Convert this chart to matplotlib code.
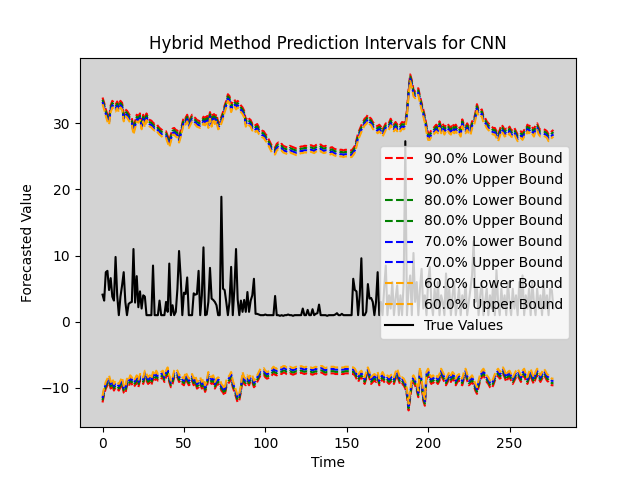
import matplotlib
matplotlib.use("Agg")
import matplotlib.pyplot as plt
import numpy as np

upper_center = [
    33.4, 32.6, 31.6, 30.8, 30.3, 32.2, 32.9, 32.6, 32.3, 32.8,
    32.2, 32.9, 32.6, 30.8, 31.6, 31.4, 31.0, 30.6, 30.3, 28.8,
    29.8, 30.8, 30.6, 31.0, 29.6, 30.8, 29.9, 31.0, 30.3, 30.0,
    29.9, 29.6, 29.4, 29.5, 29.1, 28.8, 28.6, 28.4, 28.3, 28.3,
    27.6, 26.9, 27.8, 28.7, 28.8, 28.5, 28.4, 27.6, 28.4, 29.5,
    30.5, 30.3, 30.8, 29.8, 30.3, 30.8, 30.5, 30.3, 30.0, 29.9,
    29.8, 29.9, 30.5, 30.2, 30.9, 29.8, 31.2, 30.0, 31.2, 30.4,
    30.9, 29.6, 29.8, 30.5, 31.2, 32.2, 32.9, 33.9, 33.6, 32.2,
    32.9, 33.1, 32.6, 32.9, 32.6, 32.2, 31.9, 31.4, 30.0, 30.5,
    30.2, 30.0, 29.4, 29.6, 29.2, 29.4, 28.9, 28.6, 28.4, 28.3,
    27.9, 27.6, 27.1, 26.6, 26.1, 25.8, 25.8, 26.4, 26.6, 26.3,
    26.4, 26.1, 26.0, 25.9, 25.8, 26.1, 26.0, 25.9, 25.8, 25.7,
    25.7, 25.9, 26.0, 26.0, 26.1, 26.1, 26.0, 26.1, 26.2, 26.1,
    26.0, 26.2, 26.35, 26.2, 26.3, 26.1, 26.0, 26.1, 26.0, 25.9,
    25.8, 25.9, 25.7, 25.6, 25.5, 25.6, 25.5, 25.5, 25.4, 25.5,
    25.5, 25.5, 25.4, 25.4, 25.7, 26.1, 27.0, 28.0, 28.6, 29.2,
    29.7, 30.2, 30.4, 30.8, 30.4, 30.2, 29.7, 29.4, 29.3, 29.0,
    29.3, 29.0, 28.5, 29.0, 29.5, 29.3, 29.6, 30.2, 29.6, 29.3,
    29.7, 29.3, 29.6, 29.3, 29.7, 29.6, 29.8, 31.5, 34.7, 36.9,
    36.0, 34.6, 34.3, 34.7, 34.8, 33.6, 32.6, 31.6, 30.6, 29.2,
    28.0, 28.0, 28.5, 28.7, 29.0, 29.3, 29.0, 29.8, 29.0, 29.5,
    28.8, 29.3, 29.5, 29.0, 28.8, 29.5, 29.0, 29.3, 28.8, 29.0,
    28.5, 30.1, 29.3, 29.0, 29.5, 29.0, 28.7, 29.8, 30.0, 31.0,
    32.4, 31.6, 31.4, 31.6, 30.6, 30.3, 29.8, 29.5, 29.3, 29.0,
    28.8, 28.8, 28.3, 27.8, 28.5, 29.3, 29.0, 28.5, 28.7, 28.5,
    29.0, 28.5, 28.4, 28.8, 28.3, 27.8, 28.0, 28.3, 28.0, 28.5,
    28.5, 29.3, 29.0, 29.3, 28.9, 28.5, 29.3, 29.5, 28.8, 28.5,
    28.5, 28.6, 28.5, 28.3, 27.8, 28.0, 28.3, 28.5,
]

lower_center = [
    -11.7, -10.4, -9.6, -9.1, -8.6, -9.6, -9.1, -9.9, -9.4, -9.6,
    -9.9, -9.4, -8.9, -10.2, -10.4, -9.1, -9.4, -8.6, -8.9, -9.4,
    -9.1, -8.6, -9.4, -8.4, -8.4, -8.9, -7.9, -8.4, -8.9, -8.6,
    -9.1, -8.1, -8.6, -7.9, -8.4, -8.4, -8.1, -7.9, -8.6, -7.9,
    -7.4, -8.6, -9.4, -8.9, -7.9, -7.6, -7.9, -8.6, -8.4, -8.9,
    -9.1, -8.1, -8.6, -9.1, -8.9, -8.4, -9.1, -8.6, -9.6, -9.4,
    -8.9, -9.6, -9.1, -10.1, -9.4, -8.1, -8.6, -8.9, -8.6, -9.6,
    -9.1, -8.9, -9.1, -9.9, -10.2, -10.7, -9.4, -8.9, -8.6, -8.1,
    -9.4, -10.1, -10.9, -11.7, -11.4, -10.1, -8.1, -8.9, -9.1, -8.6,
    -9.1, -8.4, -8.6, -9.4, -9.1, -8.6, -8.1, -7.6, -7.6, -7.5,
    -7.9, -8.1, -8.0, -7.9, -7.6, -7.3, -7.5, -7.6, -7.4, -7.3,
    -7.4, -7.2, -7.2, -7.4, -7.5, -7.3, -7.4, -7.5, -7.4, -7.3,
    -7.4, -7.3, -7.2, -7.3, -7.4, -7.3, -7.4, -7.5, -7.4, -7.5,
    -7.4, -7.3, -7.4, -7.3, -7.2, -7.2, -7.4, -7.5, -7.4, -7.4,
    -7.3, -7.3, -7.3, -7.4, -7.4, -7.4, -7.3, -7.4, -7.4, -7.3,
    -7.3, -7.3, -7.3, -7.4, -7.4, -7.6, -8.1, -8.6, -8.1, -7.9,
    -8.4, -8.9, -8.1, -7.4, -8.1, -8.9, -8.6, -8.4, -8.6, -8.1,
    -9.1, -8.6, -8.1, -8.6, -8.9, -8.6, -8.9, -8.6, -8.4, -8.9,
    -8.1, -7.6, -8.4, -9.1, -8.9, -9.1, -9.6, -10.7, -12.9, -11.0,
    -9.1, -8.6, -9.1, -9.9, -10.9, -7.4, -9.1, -11.4, -12.2, -8.1,
    -7.6, -8.4, -8.9, -8.6, -8.9, -8.6, -8.9, -8.4, -7.6, -8.1,
    -8.6, -9.1, -8.6, -8.1, -8.6, -8.1, -8.4, -9.1, -8.6, -8.4,
    -8.9, -9.1, -8.1, -7.6, -8.4, -9.1, -8.9, -8.6, -9.1, -9.9,
    -10.4, -9.4, -8.4, -7.9, -7.6, -8.1, -8.6, -8.9, -9.4, -9.6,
    -9.1, -8.4, -7.9, -7.6, -8.1, -7.9, -7.4, -7.9, -8.6, -8.1,
    -7.9, -8.4, -8.9, -8.4, -7.9, -7.6, -8.1, -8.6, -7.9, -7.6,
    -8.4, -8.9, -8.1, -7.6, -8.4, -8.9, -8.1, -7.6, -8.1, -8.6,
    -8.1, -7.6, -7.9, -8.4, -8.6, -8.9, -9.1, -9.1,
]

true_values = [
    4.1, 3.2, 7.5, 7.7, 4.8, 6.6, 3.8, 3.2, 9.8, 4.0,
    1.0, 3.8, 5.5, 7.5, 3.0, 1.0, 2.7, 2.9, 3.0, 11.0,
    2.9, 6.9, 2.2, 4.6, 2.0, 4.0, 3.8, 1.0, 1.0, 1.0,
    1.0, 8.5, 1.0, 1.0, 1.0, 3.2, 1.0, 1.0, 1.0, 3.0,
    1.5, 8.8, 1.0, 2.5, 1.0, 1.5, 5.0, 10.7, 6.7, 1.0,
    4.4, 4.2, 6.7, 1.0, 1.0, 1.0, 4.3, 4.1, 4.2, 7.7,
    1.0, 4.0, 11.25, 1.0, 1.1, 3.0, 8.15, 3.5, 3.3, 3.0,
    2.5, 1.0, 1.0, 18.9, 5.0, 4.8, 3.0, 1.0, 3.0, 8.3,
    1.0, 5.0, 11.0, 3.4, 1.0, 3.2, 1.5, 3.3, 1.5, 4.5,
    1.5, 3.2, 4.0, 6.5, 1.2, 1.2, 1.1, 1.0, 1.0, 1.0,
    1.1, 1.0, 1.0, 1.0, 1.0, 1.0, 3.9, 1.0, 1.0, 0.9,
    1.0, 0.9, 1.0, 1.0, 1.1, 1.0, 1.0, 0.9, 1.0, 1.0,
    1.0, 1.0, 1.0, 2.0, 1.0, 1.0, 1.8, 1.0, 1.0, 1.9,
    1.0, 1.2, 1.3, 2.6, 1.0, 1.0, 1.0, 1.0, 0.9, 1.0,
    1.0, 1.0, 1.0, 1.1, 1.3, 1.0, 1.0, 1.2, 1.0, 1.0,
    1.0, 1.0, 1.0, 1.0, 6.5, 4.8, 4.6, 1.0, 4.0, 9.6,
    1.0, 1.0, 1.5, 5.7, 3.5, 3.6, 3.0, 1.0, 3.0, 7.5,
    1.0, 3.0, 1.0, 5.0, 8.5, 1.0, 4.0, 2.0, 6.0, 1.0,
    3.5, 5.5, 1.0, 4.0, 1.0, 6.0, 27.3, 1.0, 5.0, 7.0,
    1.0, 10.4, 3.0, 6.0, 1.0, 5.0, 8.0, 2.0, 4.0, 1.0,
    6.0, 8.3, 3.0, 1.0, 5.0, 2.0, 6.0, 1.0, 4.0, 3.0,
    1.0, 7.3, 2.0, 5.0, 1.0, 4.0, 6.0, 1.0, 3.0, 5.0,
    1.0, 4.0, 2.0, 6.0, 1.0, 3.0, 5.0, 7.0, 12.2, 3.0,
    5.0, 1.0, 4.0, 6.0, 1.0, 3.0, 5.0, 1.0, 4.0, 2.0,
    6.0, 1.0, 7.8, 3.0, 1.0, 5.0, 2.0, 4.0, 1.0, 6.0,
    3.0, 1.0, 5.0, 2.0, 4.0, 1.0, 6.0, 3.0, 7.0, 1.0,
    4.0, 2.0, 5.0, 1.0, 6.0, 3.0, 1.0, 5.0, 2.0, 4.0,
    1.0, 6.0, 2.0, 4.0, 1.0, 5.0, 4.8, 2.0,
]

levels = [90.0, 80.0, 70.0, 60.0]
level_colors = ["red", "green", "blue", "orange"]
# how far each level's bound sits outside the band centre
level_shift = [0.5, 0.17, -0.17, -0.5]

time = np.arange(len(true_values))
upper_c = np.array(upper_center)
lower_c = np.array(lower_center)

fig, ax = plt.subplots(figsize=(6.4, 4.8), dpi=100)
ax.set_facecolor("lightgray")

for lvl, col, sh in zip(levels, level_colors, level_shift):
    ax.plot(time, lower_c - sh, linestyle="--", color=col, label=f"{lvl}% Lower Bound")
    ax.plot(time, upper_c + sh, linestyle="--", color=col, label=f"{lvl}% Upper Bound")

ax.plot(time, true_values, color="black", label="True Values")

ax.set_title("Hybrid Method Prediction Intervals for CNN")
ax.set_xlabel("Time")
ax.set_ylabel("Forecasted Value")
ax.legend(loc="center right")

fig.savefig("out.png", dpi=100)
